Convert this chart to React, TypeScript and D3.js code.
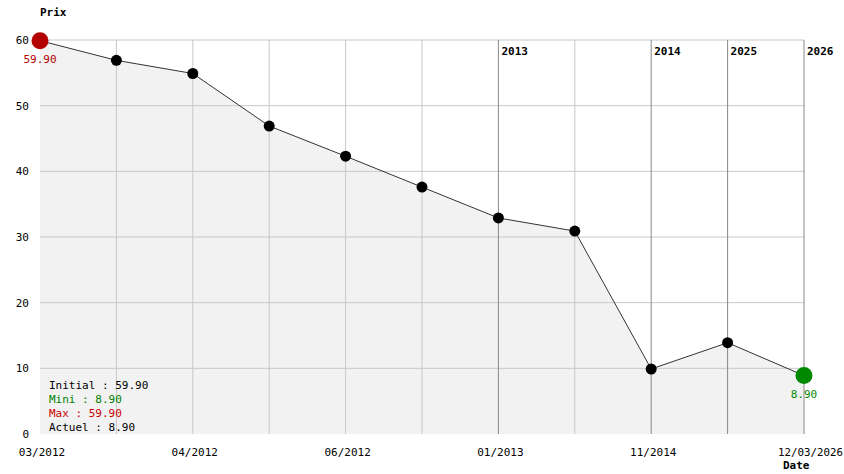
import React from "react";
import * as d3 from "d3";

const prices = [59.9, 56.9, 54.9, 46.9, 42.3, 37.6, 32.9, 30.9, 9.9, 13.9, 8.9];
const xLabels = ["03/2012", "", "04/2012", "", "06/2012", "", "01/2013", "", "11/2014", "", "12/03/2026"];
const yearMarks = [
  { index: 6, label: "2013" },
  { index: 8, label: "2014" },
  { index: 9, label: "2025" },
  { index: 10, label: "2026" },
];
const yTicks = [0, 10, 20, 30, 40, 50, 60];
const legend = [
  { text: "Initial : 59.90", color: "#000000" },
  { text: "Mini : 8.90", color: "#008000" },
  { text: "Max : 59.90", color: "#cc0000" },
  { text: "Actuel : 8.90", color: "#000000" },
];

const W = 844, H = 474;
const M = { left: 40, right: 40, top: 40, bottom: 40 };
const FONT = "'DejaVu Sans Mono', 'Liberation Mono', monospace";

export default function App() {
  const x = d3.scaleLinear().domain([0, prices.length - 1]).range([M.left, W - M.right]);
  const y = d3.scaleLinear().domain([0, 60]).range([H - M.bottom, M.top]);
  const line = d3.line<number>().x((_, i) => x(i)).y((d) => y(d));
  const area = d3.area<number>().x((_, i) => x(i)).y0(y(0)).y1((d) => y(d));
  const maxI = prices.indexOf(d3.max(prices)!);
  const minI = prices.indexOf(d3.min(prices)!);
  const yearIdx = new Set(yearMarks.map((m) => m.index));
  const last = prices.length - 1;

  return (
    <svg width={W} height={H} style={{ position: "absolute", left: 0, top: 0, background: "#fff" }} fontFamily={FONT}>
      <path d={area(prices)!} fill="#f2f2f2" />
      {yTicks.filter((t) => t > 0).map((t) => (
        <line key={t} x1={x(0)} x2={x(last)} y1={y(t)} y2={y(t)} stroke="#c8c8c8" />
      ))}
      {prices.map((_, i) =>
        i === 0 || yearIdx.has(i) ? null : (
          <line key={i} x1={x(i)} x2={x(i)} y1={y(60)} y2={y(0)} stroke="#c8c8c8" />
        )
      )}
      {yearMarks.map((m) => (
        <g key={m.label}>
          <line x1={x(m.index)} x2={x(m.index)} y1={y(60)} y2={y(0)} stroke="#888" />
          <text x={x(m.index) + 3} y={y(60) + 15} fontSize={11} fontWeight="bold">{m.label}</text>
        </g>
      ))}
      {yTicks.map((t) => (
        <text key={t} x={29} y={y(t) + 4} fontSize={11} textAnchor="end">{t}</text>
      ))}
      {xLabels.map((l, i) =>
        l ? (
          i === last ? (
            <text key={i} x={x(i) - 26} y={456} fontSize={10.8} textAnchor="start">{l}</text>
          ) : (
            <text key={i} x={x(i) + 2} y={456} fontSize={11} textAnchor="middle">{l}</text>
          )
        ) : null
      )}
      <path d={line(prices)!} fill="none" stroke="#333" strokeWidth={1} />
      {prices.map((p, i) =>
        i === maxI || i === minI ? null : <circle key={i} cx={x(i)} cy={y(p)} r={5.5} fill="#000" />
      )}
      <circle cx={x(maxI)} cy={y(prices[maxI])} r={8.5} fill="#b30000" />
      <text x={x(maxI)} y={y(prices[maxI]) + 22} fontSize={11} fill="#b30000" textAnchor="middle">
        {prices[maxI].toFixed(2)}
      </text>
      <circle cx={x(minI)} cy={y(prices[minI])} r={8.5} fill="#008800" />
      <text x={x(minI)} y={y(prices[minI]) + 22} fontSize={11} fill="#008800" textAnchor="middle">
        {prices[minI].toFixed(2)}
      </text>
      {legend.map((l, i) => (
        <text key={i} x={49} y={389 + i * 14} fontSize={11} fill={l.color}>{l.text}</text>
      ))}
      <text x={40} y={16} fontSize={11} fontWeight="bold">Prix</text>
      <text x={783} y={469} fontSize={11} fontWeight="bold">Date</text>
    </svg>
  );
}
